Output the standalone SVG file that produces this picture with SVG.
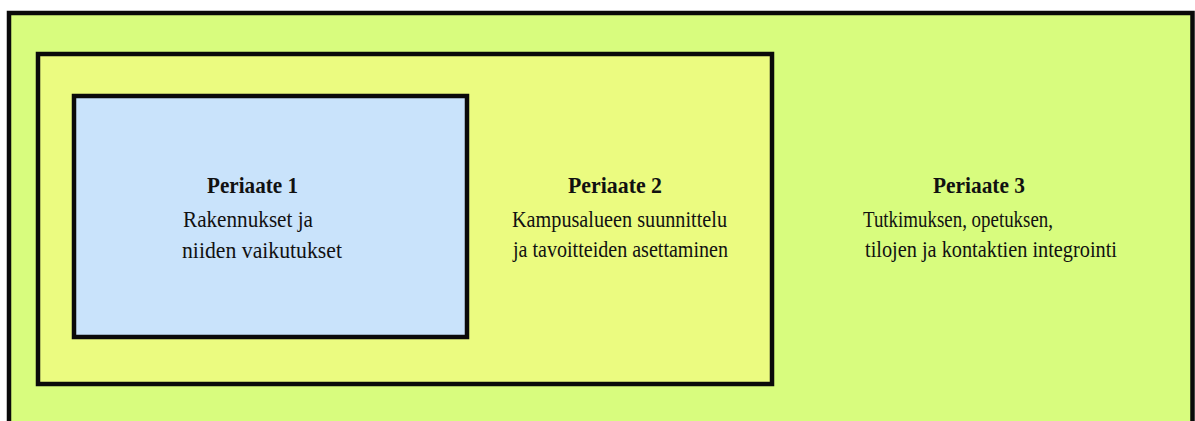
<svg xmlns="http://www.w3.org/2000/svg" width="1195" height="421" viewBox="0 0 1195 421">
<style>
.box{stroke:#0a0a0a;stroke-width:4.5}
.h{font-family:"Liberation Serif","Times New Roman",serif;font-weight:bold;font-size:24px;fill:#111}
.t{font-family:"Liberation Serif","Times New Roman",serif;font-size:23.5px;fill:#111}
</style>
<rect x="0" y="0" width="1195" height="421" fill="#ffffff"/>
<g id="periaate3">
<rect class="box" x="9" y="13" width="1183.5" height="420" fill="#d8fc7e"/>
<text class="h" x="933" y="193" textLength="92" lengthAdjust="spacingAndGlyphs">Periaate 3</text>
<text class="t" x="863" y="227" textLength="190" lengthAdjust="spacingAndGlyphs">Tutkimuksen, opetuksen,</text>
<text class="t" x="865" y="257" textLength="252" lengthAdjust="spacingAndGlyphs">tilojen ja kontaktien integrointi</text>
</g>
<g id="periaate2">
<rect class="box" x="38" y="54" width="734" height="330" fill="#ebfb80"/>
<text class="h" x="568" y="193" textLength="94" lengthAdjust="spacingAndGlyphs">Periaate 2</text>
<text class="t" x="512" y="227" textLength="215" lengthAdjust="spacingAndGlyphs">Kampusalueen suunnittelu</text>
<text class="t" x="513" y="257" textLength="215" lengthAdjust="spacingAndGlyphs">ja tavoitteiden asettaminen</text>
</g>
<g id="periaate1">
<rect class="box" x="74" y="96" width="393" height="241" fill="#c9e3fb"/>
<text class="h" x="207" y="193" textLength="91" lengthAdjust="spacingAndGlyphs">Periaate 1</text>
<text class="t" x="183" y="227" textLength="130" lengthAdjust="spacingAndGlyphs">Rakennukset ja</text>
<text class="t" x="182" y="258" textLength="160" lengthAdjust="spacingAndGlyphs">niiden vaikutukset</text>
</g>
<g id="connectors"></g>
</svg>
